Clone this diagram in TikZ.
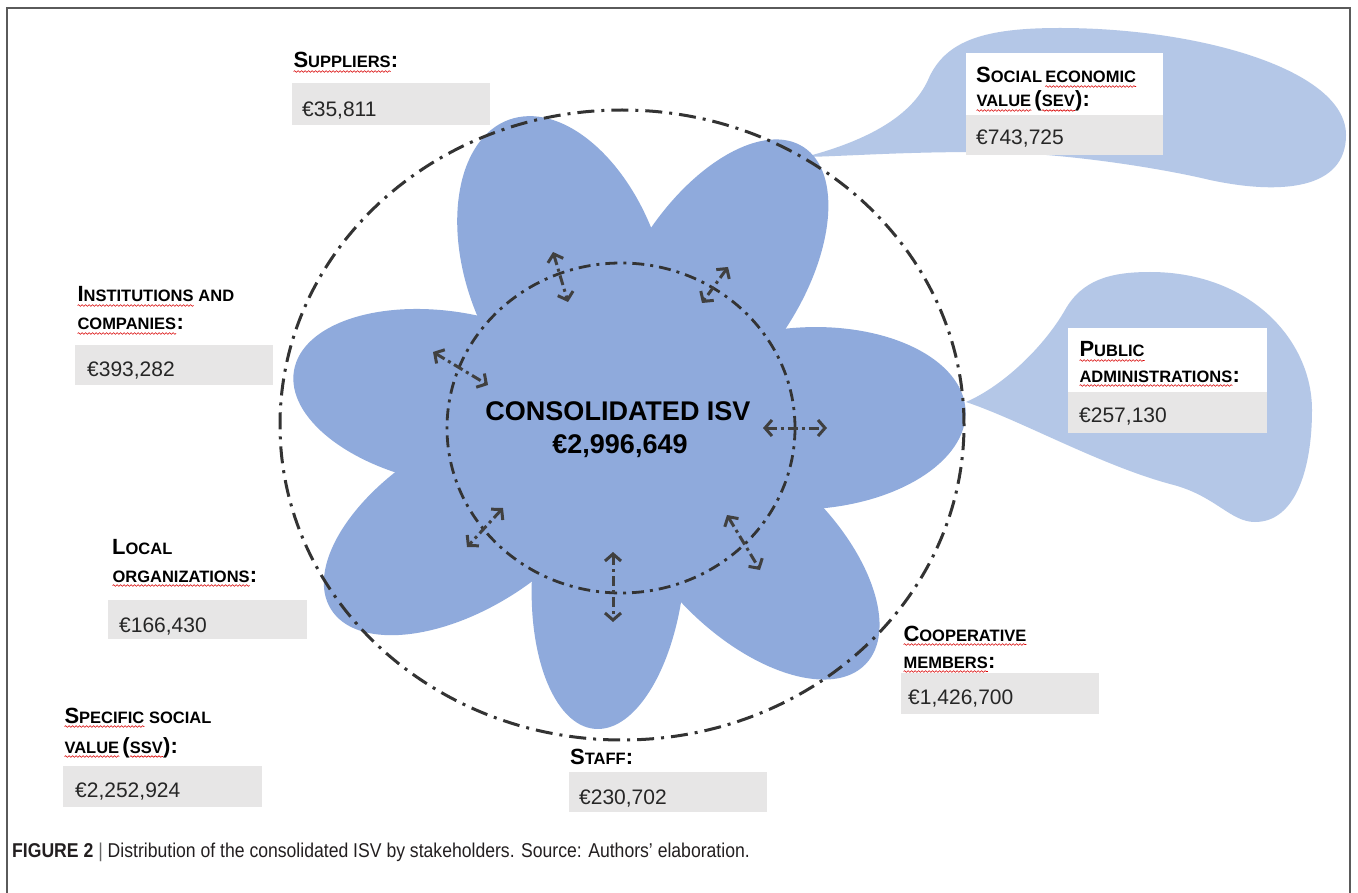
\documentclass[tikz,border=0pt]{standalone}
\usepackage{fontspec}
\usepackage{graphicx}
\setmainfont{Liberation Sans}
\usetikzlibrary{arrows.meta,decorations.pathmorphing}
\definecolor{petalblue}{HTML}{8FAADC}
\definecolor{calloutblue}{HTML}{B4C7E7}
\definecolor{boxgrey}{HTML}{E7E6E6}
\definecolor{dashdark}{HTML}{333333}
\definecolor{arrowdark}{HTML}{404040}
\definecolor{framegrey}{HTML}{5A5A5A}
\definecolor{captext}{HTML}{231F20}
\newcommand\Lg[1]{{\fontsize{22}{26}\selectfont #1}}
\newcommand\Sm[1]{{\fontsize{16.5}{20}\selectfont #1}}
\newcommand\SC[2]{\Lg{#1}\Sm{#2}}
\newcommand\sq[1]{\tikz[baseline=(sqw.base)]{\node[inner sep=0pt,outer sep=0pt,anchor=base,draw=none,fill=none] (sqw) {#1};\draw[red!85!black,line width=0.6pt,decorate,decoration={snake,amplitude=0.8pt,segment length=3.5pt}] ([yshift=-3.5pt]sqw.base west) -- ([yshift=-3.5pt]sqw.base east);}}
\begin{document}
\begin{tikzpicture}[x=1pt,y=1pt,
  petalfill/.style={fill=petalblue},
  callout/.style={fill=calloutblue},
  greybox/.style={fill=boxgrey},
  whitebox/.style={fill=white},
  outerdash/.style={draw=dashdark,line width=3pt,dash pattern=on 17pt off 7pt on 3pt off 7pt},
  innerdash/.style={draw=dashdark,line width=2.8pt,dash pattern=on 12pt off 6pt on 3pt off 6pt},
  darr/.style={draw=arrowdark,line width=3pt,dash pattern=on 10pt off 4pt on 3pt off 4pt,
     {Straight Barb[length=7pt,width=16pt]}-{Straight Barb[length=7pt,width=16pt]}},
  ttl/.style={anchor=base west,inner sep=0pt,font=\bfseries,text=black},
  val/.style={anchor=base west,inner sep=0pt,font=\fontsize{21}{25}\selectfont,text=black!85},
  ctr/.style={anchor=base,inner sep=0pt,font=\fontsize{27}{32}\selectfont\bfseries,text=black}
]
\useasboundingbox (0,0) rectangle (1358,-893);
\fill[white] (0,0) rectangle (1358,-893);
% frame
\draw[framegrey,line width=2pt] (7,-893) -- (7,-8) -- (1350,-8) -- (1350,-893);

% callouts
\fill[callout] (805,-157) .. controls (870,-140) and (912,-115) .. (928,-80)
  .. controls (945,-40) and (985,-28) .. (1060,-28)
  .. controls (1200,-28) and (1346,-70) .. (1346,-135)
  .. controls (1346,-190) and (1280,-195) .. (1210,-180)
  .. controls (1160,-168) and (1060,-152) .. (980,-152)
  .. controls (900,-152) and (850,-156) .. cycle;
\fill[callout] (966,-402) .. controls (1005,-385) and (1045,-345) .. (1065,-310)
  .. controls (1082,-280) and (1110,-272) .. (1150,-272)
  .. controls (1250,-272) and (1312,-340) .. (1312,-410)
  .. controls (1312,-470) and (1295,-522) .. (1255,-522)
  .. controls (1230,-522) and (1215,-495) .. (1170,-484)
  .. controls (1100,-465) and (1020,-420) .. cycle;

% petals
\foreach \th/\D/\b in {110/328/97, 57/335/84, 3/345/91, -44/340/84, -95/302/76, -148/342/84, 170/332/86}{
  \pgfmathsetmacro\cc{\D-160}
  \fill[petalfill,shift={(621,-428)},rotate=\th] (\cc,0) ellipse [x radius=160, y radius=\b];
}
\fill[petalfill] (621,-428) ellipse [x radius=178, y radius=170];

% circles
\draw[outerdash] (622,-425) ellipse [x radius=342, y radius=315];
\draw[innerdash] (621,-428) ellipse [x radius=174, y radius=165];

% arrows
\coordinate (a1s) at (553,-252); \coordinate (a1e) at (568,-302);
\coordinate (a2s) at (728,-267); \coordinate (a2e) at (702,-303);
\coordinate (a3s) at (433,-352); \coordinate (a3e) at (488,-385);
\coordinate (a4s) at (763,-428); \coordinate (a4e) at (827,-428);
\coordinate (a5s) at (503,-508); \coordinate (a5e) at (467,-547);
\coordinate (a6s) at (613,-552); \coordinate (a6e) at (613,-622);
\coordinate (a7s) at (727,-515); \coordinate (a7e) at (760,-570);
\foreach \i in {1,...,7}{\draw[darr] (a\i s) -- (a\i e);}

% centre text
\node[ctr] (ctr1) at (618,-420) {CONSOLIDATED ISV};
\node[ctr] (ctr2) at (620,-453) {€2,996,649};

% boxes
\fill[greybox] (292,-83) rectangle (490,-125);
\fill[whitebox] (966,-53) rectangle (1163,-115);
\fill[greybox] (966,-115) rectangle (1163,-155);
\fill[greybox] (75,-345) rectangle (273,-385);
\fill[whitebox] (1068,-328) rectangle (1267,-392);
\fill[greybox] (1068,-392) rectangle (1267,-433);
\fill[greybox] (108,-600) rectangle (307,-639);
\fill[greybox] (63,-766) rectangle (262,-807);
\fill[greybox] (901,-673) rectangle (1099,-714);
\fill[greybox] (569,-772) rectangle (767,-812);

% titles
\node[ttl] (supt) at (293,-68) {\sq{\SC{S}{UPPLIERS}}\Lg{:}};
\node[ttl] (sevt1) at (976,-83) {\SC{S}{OCIAL} \sq{\Sm{ECONOMIC}}};
\node[ttl] (sevt2) at (976,-107) {\sq{\Sm{VALUE}} \Lg{(}\sq{\Sm{SEV}}\Lg{):}};
\node[ttl] (inst1) at (77,-302) {\sq{\SC{I}{NSTITUTIONS}}\Sm{ AND}};
\node[ttl] (inst2) at (77,-330) {\sq{\Sm{COMPANIES}}\Lg{:}};
\node[ttl] (pubt1) at (1079,-357) {\sq{\SC{P}{UBLIC}}};
\node[ttl] (pubt2) at (1079,-382) {\sq{\Sm{ADMINISTRATIONS}}\Lg{:}};
\node[ttl] (loct1) at (112,-554) {\SC{L}{OCAL}};
\node[ttl] (loct2) at (112,-582) {\sq{\Sm{ORGANIZATIONS}}\Lg{:}};
\node[ttl] (spct1) at (64,-723) {\sq{\SC{S}{PECIFIC}}\Sm{ SOCIAL}};
\node[ttl] (spct2) at (64,-753) {\sq{\Sm{VALUE}} \Lg{(}\sq{\Sm{SSV}}\Lg{):}};
\node[ttl] (coot1) at (903,-641) {\sq{\SC{C}{OOPERATIVE}}};
\node[ttl] (coot2) at (903,-668) {\sq{\Sm{MEMBERS}}\Lg{:}};
\node[ttl] (stft) at (570,-764) {\SC{S}{TAFF}\Lg{:}};

% values
\node[val] (supv) at (302,-117) {€35,811};
\node[val] (sevv) at (976,-145) {€743,725};
\node[val] (instv) at (87,-377) {€393,282};
\node[val] (pubv) at (1079,-422) {€257,130};
\node[val] (locv) at (119,-632) {€166,430};
\node[val] (spcv) at (75,-797) {€2,252,924};
\node[val] (coov) at (908,-704) {€1,426,700};
\node[val] (stfv) at (579,-804) {€230,702};

% caption
\node[anchor=base west,inner sep=0pt,font=\fontsize{20}{24}\selectfont,text=captext] (cap) at (12,-857)
  {\scalebox{0.88}[1]{\textbf{FIGURE 2} {\color{black!60}|} Distribution of the consolidated ISV by stakeholders. Source: Authors’ elaboration.}};
\end{tikzpicture}
\end{document}
